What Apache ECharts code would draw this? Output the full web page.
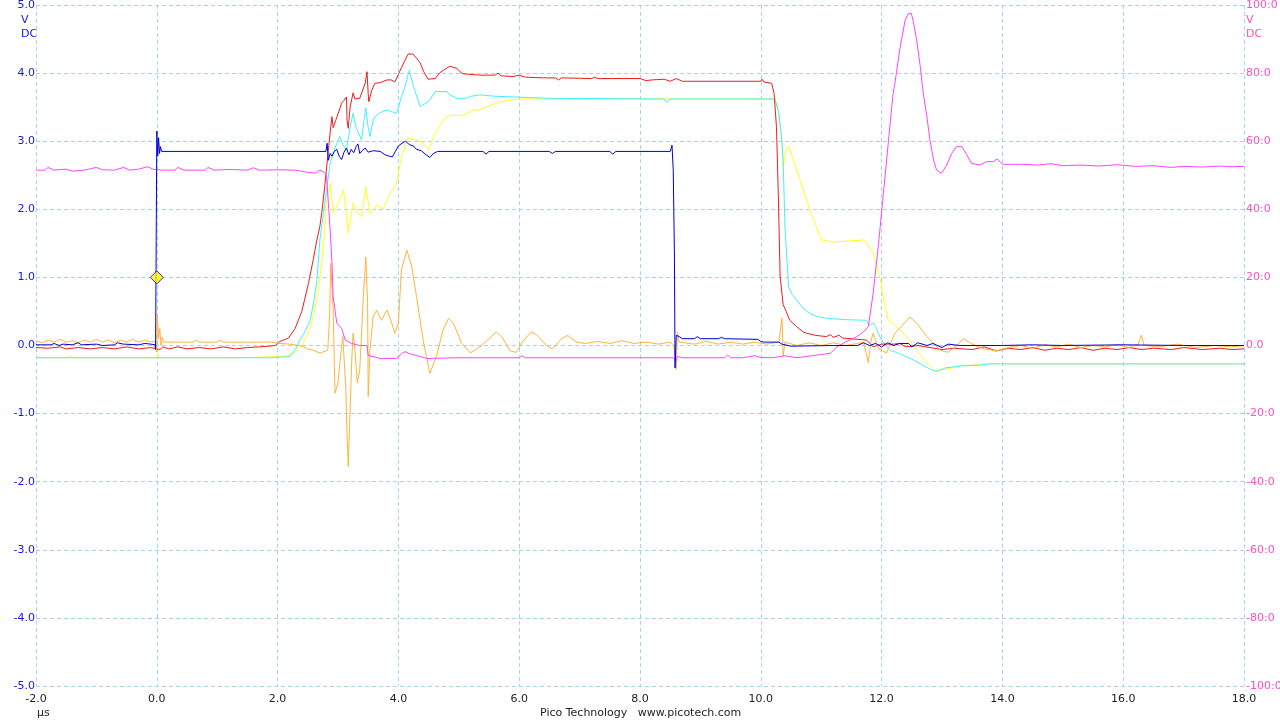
<!DOCTYPE html>
<html>
<head>
<meta charset="utf-8">
<script src="https://cdn.jsdelivr.net/npm/echarts@6/dist/echarts.min.js"></script>
<style>
html,body{margin:0;padding:0;background:#fff;}
#c{width:1280px;height:720px;}
</style>
</head>
<body>
<div id="c"></div>
<script>
// ---- data (time in µs, values in V; pink channel on right scale) ----
var rightTickLabels = {"100":"100:0","80":"80:0","60":"60:0","40":"40:0","20":"20:0","0":"0.0","-20":"-20:0","-40":"-40:0","-60":"-60:0","-80":"-80:0","-100":"-100:0"};

var blueData = [[-2,0.01],[-1.75,0.01],[-1.7,0.03],[-1.62,0.0],[-1.55,0.02],[-1.4,0.01],[-1.3,0.04],[-1.25,0.01],[-1.0,0.02],[-0.9,0.0],[-0.7,0.01],[-0.65,0.04],[-0.55,0.02],[-0.3,0.01],[-0.2,0.03],[-0.1,0.02],[-0.03,0.01],[-0.02,-0.06],[-0.005,-0.05],[0.0,3.15],[0.015,2.78],[0.03,3.05],[0.045,2.82],[0.06,2.92],[0.08,2.85],[2.8,2.85],[2.82,2.97],[2.84,2.72],[2.87,2.82],[2.9,2.78],[2.94,2.85],[2.98,2.88],[3.02,2.78],[3.06,2.73],[3.1,2.84],[3.14,2.9],[3.18,2.8],[3.22,2.88],[3.26,2.83],[3.3,2.92],[3.33,2.96],[3.36,2.82],[3.4,2.86],[3.45,2.9],[3.5,2.84],[3.58,2.86],[3.7,2.85],[3.78,2.8],[3.85,2.78],[3.9,2.77],[3.95,2.85],[4.0,2.93],[4.06,2.97],[4.12,3.0],[4.18,2.95],[4.25,2.93],[4.3,2.88],[4.38,2.86],[4.46,2.8],[4.52,2.76],[4.58,2.82],[4.65,2.85],[5.4,2.85],[5.45,2.81],[5.5,2.85],[6.5,2.85],[6.55,2.82],[6.6,2.85],[7.5,2.85],[7.55,2.81],[7.6,2.85],[8.5,2.85],[8.53,2.94],[8.55,2.58],[8.57,1.33],[8.58,-0.33],[8.6,0.15],[8.65,0.13],[8.7,0.1],[8.9,0.1],[8.95,0.13],[9.0,0.1],[9.3,0.1],[9.35,0.12],[9.4,0.1],[9.95,0.09],[10.0,0.06],[10.05,0.05],[10.3,0.05],[10.35,0.02],[10.5,-0.01],[11.2,0.0],[11.6,0.0],[11.7,0.04],[11.8,0.0],[11.9,0.03],[12.0,-0.02],[12.1,0.04],[12.2,0.0],[12.3,0.03],[12.45,0.03],[12.5,-0.02],[12.6,0.04],[12.75,0.0],[12.85,0.03],[13.0,-0.03],[13.1,0.02],[13.3,0.0],[14.0,0.0],[14.5,0.01],[15,0.0],[16,0.01],[17,0.0],[18,0.0]];

var redData = [[-2,-0.03],[-1.8,-0.04],[-1.6,-0.02],[-1.5,-0.05],[-1.3,-0.03],[-1.1,-0.05],[-0.9,-0.03],[-0.7,-0.05],[-0.5,-0.02],[-0.3,-0.05],[-0.1,-0.03],[0.05,-0.06],[0.1,-0.02],[0.2,-0.05],[0.35,-0.02],[0.5,-0.05],[0.7,-0.03],[0.9,-0.05],[1.1,-0.02],[1.3,-0.05],[1.5,-0.03],[1.7,-0.02],[1.85,-0.01],[1.96,0.0],[2.04,0.06],[2.18,0.11],[2.29,0.25],[2.4,0.5],[2.51,0.91],[2.59,1.26],[2.65,1.55],[2.7,1.75],[2.73,1.94],[2.78,2.33],[2.84,2.87],[2.88,3.21],[2.9,3.36],[2.92,3.2],[2.96,3.3],[3.0,3.4],[3.06,3.56],[3.1,3.6],[3.14,3.65],[3.15,3.3],[3.17,3.19],[3.2,3.5],[3.25,3.71],[3.28,3.62],[3.31,3.6],[3.36,3.63],[3.39,3.63],[3.45,3.85],[3.48,4.02],[3.5,3.7],[3.51,3.58],[3.56,3.75],[3.61,3.85],[3.7,3.86],[3.81,3.9],[3.88,3.9],[3.94,3.87],[4.0,3.98],[4.05,4.08],[4.11,4.19],[4.16,4.28],[4.24,4.28],[4.3,4.22],[4.36,4.15],[4.42,4.02],[4.49,3.91],[4.61,3.92],[4.68,4.0],[4.74,4.04],[4.85,4.1],[4.97,4.07],[5.02,4.02],[5.07,3.99],[5.35,3.97],[5.6,3.97],[5.65,4.0],[5.7,3.96],[5.9,3.95],[6.0,3.97],[6.1,3.94],[6.4,3.93],[6.6,3.93],[6.65,3.9],[6.7,3.93],[7.2,3.92],[7.25,3.94],[7.3,3.92],[8.0,3.92],[8.1,3.89],[8.2,3.9],[8.4,3.91],[8.5,3.88],[8.6,3.92],[8.7,3.88],[10.0,3.88],[10.02,3.91],[10.05,3.87],[10.18,3.85],[10.22,3.7],[10.26,3.2],[10.29,2.2],[10.32,1.01],[10.37,0.6],[10.42,0.5],[10.48,0.37],[10.59,0.28],[10.7,0.2],[10.76,0.18],[10.9,0.15],[11.09,0.13],[11.15,0.16],[11.2,0.12],[11.3,0.15],[11.35,0.11],[11.75,0.08],[11.86,-0.02],[12.0,0.02],[12.2,0.02],[12.3,0.03],[12.4,-0.02],[12.6,0.0],[12.8,-0.03],[13.0,-0.06],[13.2,-0.04],[13.5,-0.06],[13.7,-0.02],[13.9,-0.08],[14.1,-0.04],[14.3,-0.06],[14.5,-0.03],[14.7,-0.07],[14.9,-0.04],[15.1,-0.06],[15.3,-0.03],[15.5,-0.07],[15.7,-0.04],[15.9,-0.06],[16.1,-0.03],[16.3,-0.06],[16.5,-0.04],[16.8,-0.06],[17.0,-0.03],[17.3,-0.06],[17.6,-0.04],[17.8,-0.06],[18,-0.05]];

var cyanData = [[-2,-0.18],[1.9,-0.18],[2.0,-0.17],[2.1,-0.17],[2.21,-0.16],[2.3,-0.05],[2.37,0.08],[2.45,0.2],[2.54,0.37],[2.6,0.65],[2.65,0.96],[2.7,1.55],[2.76,1.95],[2.81,2.28],[2.87,2.68],[2.95,2.9],[3.03,3.07],[3.08,2.95],[3.14,2.87],[3.2,3.2],[3.25,3.41],[3.3,3.2],[3.39,3.02],[3.43,3.3],[3.46,3.49],[3.5,3.2],[3.53,3.07],[3.58,3.3],[3.61,3.36],[3.7,3.42],[3.81,3.46],[3.9,3.43],[3.97,3.41],[4.05,3.65],[4.11,3.8],[4.18,4.04],[4.22,3.9],[4.27,3.75],[4.36,3.51],[4.5,3.58],[4.61,3.73],[4.8,3.73],[4.85,3.68],[4.97,3.63],[5.13,3.63],[5.2,3.66],[5.35,3.68],[5.6,3.66],[5.9,3.65],[6.2,3.64],[6.5,3.63],[8.4,3.62],[8.45,3.57],[8.5,3.62],[10.2,3.62],[10.24,3.6],[10.3,3.4],[10.35,3.0],[10.37,2.72],[10.4,1.74],[10.46,0.86],[10.52,0.75],[10.59,0.67],[10.7,0.55],[10.81,0.47],[10.95,0.42],[11.09,0.4],[11.4,0.38],[11.75,0.37],[11.8,0.3],[11.86,0.33],[11.9,0.28],[11.97,0.13],[12.05,0.02],[12.14,-0.07],[12.3,-0.12],[12.5,-0.2],[12.7,-0.3],[12.85,-0.37],[12.92,-0.38],[13.05,-0.33],[13.3,-0.3],[13.6,-0.29],[13.8,-0.27],[18,-0.27]];

var yellowData = [[-2,-0.18],[-1.5,-0.18],[-1.45,-0.16],[-1.4,-0.18],[0.0,-0.18],[0.02,-0.12],[0.05,-0.18],[0.4,-0.18],[0.42,-0.16],[0.45,-0.18],[1.3,-0.18],[1.32,-0.16],[1.35,-0.18],[2.13,-0.16],[2.3,-0.09],[2.42,0.03],[2.52,0.2],[2.59,0.42],[2.67,0.8],[2.73,1.2],[2.78,1.7],[2.81,2.14],[2.87,2.38],[2.92,1.94],[3.0,2.09],[3.09,2.28],[3.14,1.95],[3.17,1.65],[3.25,2.09],[3.33,1.95],[3.39,1.89],[3.46,2.33],[3.53,1.94],[3.64,2.06],[3.75,2.01],[3.86,2.23],[3.97,2.38],[4.05,2.77],[4.16,3.04],[4.27,3.03],[4.41,2.97],[4.5,2.87],[4.58,3.07],[4.74,3.31],[4.85,3.38],[5.07,3.38],[5.24,3.46],[5.35,3.46],[5.5,3.52],[5.7,3.58],[5.85,3.6],[6.0,3.62],[10.24,3.62],[10.3,3.4],[10.35,2.97],[10.37,2.63],[10.43,2.9],[10.47,2.92],[10.65,2.43],[10.81,1.99],[11.01,1.55],[11.2,1.52],[11.72,1.55],[11.86,1.35],[11.97,1.01],[12.04,0.65],[12.11,0.37],[12.25,0.28],[12.41,0.13],[12.58,-0.07],[12.75,-0.25],[12.9,-0.38],[13.05,-0.35],[13.3,-0.3],[13.6,-0.28],[13.8,-0.27],[18,-0.27]];

var orangeData = [[-2,0.07],[-1.9,0.04],[-1.8,0.08],[-1.7,0.05],[-1.6,0.09],[-1.5,0.05],[-1.4,0.07],[-1.3,0.04],[-1.2,0.08],[-1.1,0.05],[-1.0,0.09],[-0.9,0.05],[-0.8,0.08],[-0.7,0.04],[-0.6,0.08],[-0.5,0.05],[-0.4,0.09],[-0.3,0.05],[-0.2,0.08],[-0.1,0.05],[-0.02,0.06],[0.0,-0.1],[0.01,0.45],[0.03,0.1],[0.05,0.25],[0.07,0.0],[0.09,0.12],[0.12,0.05],[0.6,0.05],[0.65,0.08],[0.7,0.05],[1.0,0.05],[1.05,0.08],[1.1,0.05],[1.9,0.05],[2.04,0.03],[2.2,0.02],[2.37,0.0],[2.5,-0.05],[2.59,-0.07],[2.7,-0.11],[2.83,-0.07],[2.86,0.4],[2.88,1.21],[2.92,0.52],[2.95,-0.7],[3.0,-0.55],[3.03,-0.26],[3.08,0.13],[3.13,-0.65],[3.15,-1.3],[3.17,-1.78],[3.19,-1.24],[3.23,-0.16],[3.25,0.18],[3.28,-0.07],[3.32,-0.55],[3.36,-0.36],[3.42,0.72],[3.46,1.3],[3.49,0.62],[3.5,-0.75],[3.53,-0.07],[3.58,0.42],[3.64,0.52],[3.72,0.37],[3.81,0.52],[3.89,0.33],[3.94,0.18],[4.0,0.33],[4.05,1.11],[4.14,1.4],[4.22,1.16],[4.3,0.72],[4.41,0.08],[4.52,-0.41],[4.63,-0.16],[4.74,0.23],[4.83,0.4],[4.91,0.33],[5.05,0.03],[5.19,-0.11],[5.35,-0.02],[5.5,0.1],[5.62,0.2],[5.72,0.12],[5.85,-0.08],[5.95,-0.1],[6.05,0.05],[6.2,0.2],[6.3,0.15],[6.45,0.0],[6.55,-0.05],[6.7,0.1],[6.8,0.15],[6.95,0.05],[7.1,0.03],[7.3,0.06],[7.5,0.03],[7.7,0.07],[7.9,0.03],[8.1,0.05],[8.3,0.02],[8.5,0.05],[8.56,0.0],[8.6,-0.35],[8.62,0.2],[8.65,0.05],[8.9,0.02],[9.1,0.06],[9.3,0.02],[9.5,0.05],[9.7,0.02],[9.9,0.05],[10.1,0.02],[10.3,0.05],[10.35,0.4],[10.37,-0.16],[10.4,0.05],[10.6,0.0],[10.8,0.04],[11.0,0.0],[11.2,0.04],[11.4,0.0],[11.6,0.03],[11.7,0.05],[11.78,-0.25],[11.82,0.05],[11.86,0.18],[11.95,-0.05],[12.08,-0.11],[12.22,0.18],[12.35,0.3],[12.47,0.42],[12.58,0.33],[12.75,0.13],[12.97,-0.07],[13.1,-0.1],[13.25,0.0],[13.35,0.1],[13.5,0.02],[13.7,-0.05],[13.9,-0.08],[14.1,-0.03],[14.3,0.0],[14.5,-0.04],[14.7,0.01],[14.9,-0.02],[15.1,0.02],[15.3,-0.03],[15.5,0.0],[15.7,-0.02],[15.9,0.01],[16.1,-0.03],[16.25,0.02],[16.3,0.15],[16.35,0.0],[16.6,-0.02],[16.9,0.02],[17.2,-0.03],[17.5,0.0],[17.8,-0.02],[18,0.0]];

var pinkData = [[-2,51.5],[-1.85,51.5],[-1.8,52.3],[-1.7,51.5],[-1.5,51.8],[-1.4,51.2],[-1.2,51.5],[-1.0,52.3],[-0.9,51.6],[-0.7,51.5],[-0.55,52.3],[-0.45,51.5],[-0.3,51.8],[-0.15,52.5],[-0.05,51.7],[0.1,51.5],[0.3,51.5],[0.35,52.3],[0.45,51.5],[0.8,51.5],[0.85,52.3],[0.95,51.5],[1.2,51.7],[1.5,51.5],[1.6,52.2],[1.7,51.5],[2.0,51.6],[2.3,51.5],[2.45,51.0],[2.62,50.6],[2.7,51.5],[2.78,50.8],[2.81,50],[2.84,42],[2.87,34],[2.9,24.2],[2.92,14.3],[2.98,6.6],[3.06,5.0],[3.12,1.6],[3.23,0.6],[3.36,0],[3.48,0],[3.5,-2.9],[3.7,-3.8],[3.97,-3.8],[4.05,-2.5],[4.11,-1.8],[4.2,-2.5],[4.3,-2.9],[4.47,-3.8],[5.0,-3.6],[6.0,-3.6],[6.05,-3.0],[6.1,-3.6],[7.5,-3.6],[8.55,-3.6],[8.6,-4.5],[8.62,-3.2],[8.7,-3.6],[9.4,-3.6],[9.45,-2.8],[9.5,-3.6],[9.7,-3.6],[9.9,-3.0],[10.0,-3.5],[10.2,-3.6],[10.4,-3.0],[10.6,-3.6],[10.85,-3.0],[11.15,-2.3],[11.26,-0.4],[11.4,1.0],[11.59,2.6],[11.7,4.0],[11.78,5.5],[11.86,15.3],[11.95,30],[12.03,44.7],[12.11,59.4],[12.19,74],[12.22,77],[12.3,86.8],[12.39,95.6],[12.44,97.4],[12.49,97.6],[12.52,95.6],[12.58,89.7],[12.64,82],[12.69,74],[12.75,67.2],[12.8,60.4],[12.86,54.5],[12.91,51.5],[12.99,50.6],[13.08,53],[13.16,56.4],[13.24,58.4],[13.33,58.4],[13.41,56],[13.49,53.5],[13.63,53],[13.74,54],[13.85,54],[13.91,54.8],[14.01,53.2],[14.3,53.2],[14.6,53.0],[14.8,53.4],[15.0,52.8],[15.3,53.0],[15.6,52.7],[15.9,53.1],[16.2,52.6],[16.5,52.8],[16.8,52.3],[17.0,52.6],[17.3,52.4],[17.6,52.7],[17.8,52.5],[18,52.6]];

var triggerPoint = [[0, 1.0]];

// ---- chart ----
var FONT = 'DejaVu Sans';
var GRID_COLOR = '#a6d6e4';
var chart = echarts.init(document.getElementById('c'), null, {renderer: 'canvas'});

function lineSeries(name, data, color, yIdx, z) {
  return {
    name: name, type: 'line', data: data, yAxisIndex: yIdx || 0,
    showSymbol: false, symbol: 'none', smooth: false, z: z,
    lineStyle: {color: color, width: 1}, itemStyle: {color: color},
    emphasis: {disabled: true}, animation: false
  };
}

chart.setOption({
  animation: false,
  backgroundColor: '#ffffff',
  grid: {left: 36, right: 36, top: 5, bottom: 34, containLabel: false, outerBoundsMode: 'none'},
  xAxis: {
    type: 'value', min: -2, max: 18, interval: 2,
    axisLine: {show: false}, axisTick: {show: false},
    axisLabel: {color: '#222', fontFamily: FONT, fontSize: 11, margin: 8,
      formatter: function (v) { return v.toFixed(1); }},
    splitLine: {show: true, lineStyle: {color: GRID_COLOR, type: [4, 3], width: 1}}
  },
  yAxis: [{
    type: 'value', min: -5, max: 5, interval: 1, position: 'left',
    axisLine: {show: false}, axisTick: {show: false},
    axisLabel: {color: '#1515ee', fontFamily: FONT, fontSize: 11, margin: 1,
      formatter: function (v) { return v.toFixed(1); }},
    splitLine: {show: true, lineStyle: {color: GRID_COLOR, type: [4, 3], width: 1}}
  }, {
    type: 'value', min: -100, max: 100, interval: 20, position: 'right',
    axisLine: {show: false}, axisTick: {show: false},
    axisLabel: {color: '#ff4fc0', fontFamily: FONT, fontSize: 11, margin: 2,
      formatter: function (v) { return rightTickLabels[String(v)]; }},
    splitLine: {show: false}
  }],
  series: [
    lineSeries('Yellow', yellowData, '#ffff22', 0, 2),
    lineSeries('Cyan', cyanData, '#44f0ff', 0, 3),
    lineSeries('Red', redData, '#f01c1c', 0, 4),
    lineSeries('Orange', orangeData, '#ffb43c', 0, 5),
    lineSeries('Pink', pinkData, '#ff44ff', 1, 6),
    lineSeries('Blue', blueData, '#0000d8', 0, 7),
    {
      name: 'Trigger', type: 'scatter', data: triggerPoint, z: 10,
      symbol: 'diamond', symbolSize: [13, 13],
      itemStyle: {color: '#ffee00', borderColor: '#0000d8', borderWidth: 1},
      emphasis: {disabled: true}, animation: false
    }
  ],
  graphic: [
    {type: 'text', left: 21, top: 15, style: {text: 'V', fill: '#1515ee', font: '11px "DejaVu Sans"'}},
    {type: 'text', left: 21, top: 29, style: {text: 'DC', fill: '#1515ee', font: '11px "DejaVu Sans"'}},
    {type: 'text', left: 1246, top: 15, style: {text: 'V', fill: '#ff4fc0', font: '11px "DejaVu Sans"'}},
    {type: 'text', left: 1246, top: 29, style: {text: 'DC', fill: '#ff4fc0', font: '11px "DejaVu Sans"'}},
    {type: 'text', left: 37, top: 708, style: {text: 'µs', fill: '#222', font: '11px "DejaVu Sans"'}},
    {type: 'text', left: 540, top: 708, style: {text: 'Pico Technology   www.picotech.com', fill: '#222', font: '11px "DejaVu Sans"'}}
  ]
});
</script>
</body>
</html>
